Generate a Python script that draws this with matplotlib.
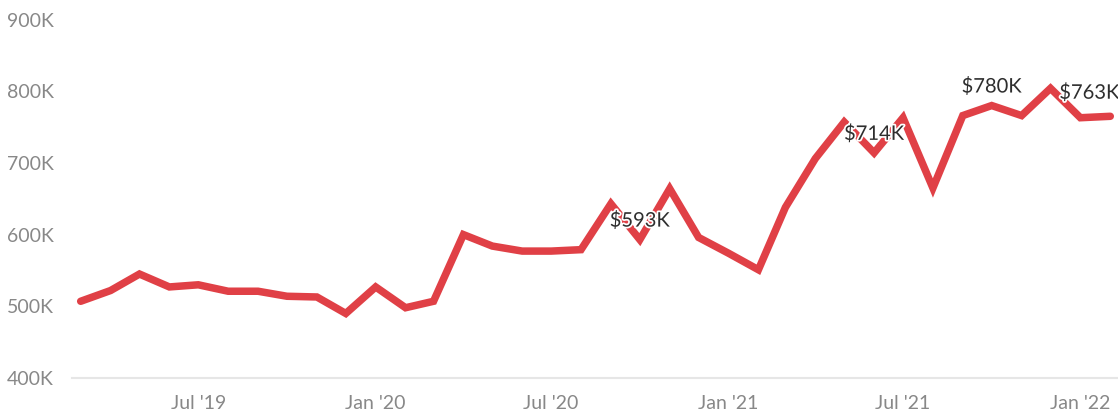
import numpy as np
import pandas as pd
import matplotlib
matplotlib.use('Agg')
import matplotlib.pyplot as plt
import matplotlib.dates as mdates
import matplotlib.patheffects as pe

# monthly values, thousands of dollars
months = pd.date_range('2019-03-01', '2022-02-01', freq='MS')
values = [507, 522, 545, 527, 530, 521, 521, 514, 513, 490,
          527, 498, 507, 600, 584, 577, 577, 579, 643, 593,
          664, 596, 574, 551, 638, 706, 757, 714, 763, 665,
          766, 780, 766, 804, 763, 765]
labeled = {'2020-10-01': '$593K', '2021-06-01': '$714K',
           '2021-10-01': '$780K', '2022-01-01': '$763K'}
y_ticks = [400, 500, 600, 700, 800, 900]
x_ticks = pd.to_datetime(['2019-07-01', '2020-01-01', '2020-07-01',
                          '2021-01-01', '2021-07-01', '2022-01-01'])

plt.rcParams['font.family'] = ['Lato', 'DejaVu Sans']

W, H = 1118, 415
fig = plt.figure(figsize=(W / 100, H / 100), dpi=100)
ax = fig.add_axes([72 / W, 37 / H, 1 - 72 / W, (378 - 19.5) / H])

ax.plot(months, values, color='#e04046', lw=5.4, solid_joinstyle='miter',
        solid_capstyle='round', zorder=2)

for d, txt in labeled.items():
    d = pd.Timestamp(d)
    v = values[list(months).index(d)]
    dx = 9 if d == pd.Timestamp('2022-01-01') else 0
    dy = 25 if d == pd.Timestamp('2022-01-01') else 19
    ax.annotate(txt, (d, v), xytext=(dx, dy), textcoords='offset pixels',
                ha='center', va='center', fontsize=14.5, color='#2e2e2e',
                path_effects=[pe.withStroke(linewidth=2.5, foreground='white')],
                zorder=3, annotation_clip=False)

ax.set_ylim(400, 900)
ax.set_xlim(pd.Timestamp('2019-02-20'), pd.Timestamp('2022-02-09'))
ax.set_yticks(y_ticks)
ax.set_yticklabels([f'{t}K' for t in y_ticks])
ax.set_xticks(x_ticks)
ax.xaxis.set_major_formatter(mdates.DateFormatter("%b '%y"))

ax.tick_params(axis='y', length=0, pad=47, labelsize=14, labelcolor='#888888')
ax.tick_params(axis='x', length=0, pad=12, labelsize=14, labelcolor='#888888')
for lab in ax.get_yticklabels():
    lab.set_horizontalalignment('left')

for s in ['top', 'right', 'left']:
    ax.spines[s].set_visible(False)
ax.spines['bottom'].set_color('#e6e6e6')
ax.spines['bottom'].set_linewidth(1.5)
ax.set_facecolor('white')

fig.savefig('out.png', dpi=100)
